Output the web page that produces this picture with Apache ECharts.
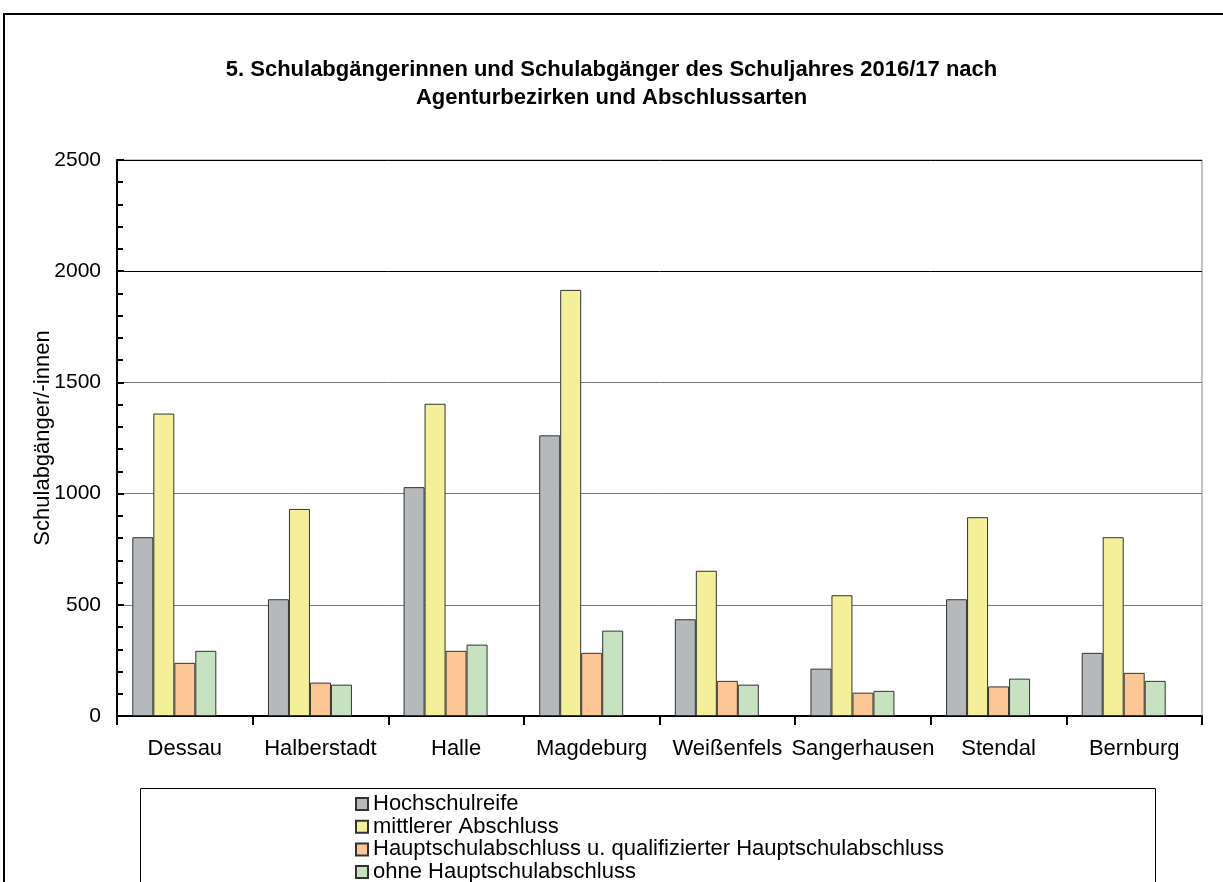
<!DOCTYPE html>
<html lang="de">
<head>
    <meta charset="UTF-8">
    <title>Schulabgänger 2016/17</title>
    <script src="https://cdn.jsdelivr.net/npm/echarts@6/dist/echarts.min.js"></script>
    <style>
        body { margin: 0; background: #fff; }
        #chart { width: 1223px; height: 882px; }
    </style>
</head>
<body>
    <div id="chart"></div>
    <script>
        // Agenturbezirke
        var bezirke = ['Dessau', 'Halberstadt', 'Halle', 'Magdeburg', 'Weißenfels', 'Sangerhausen', 'Stendal', 'Bernburg']
        var reihen = ['Hochschulreife', 'mittlerer Abschluss', 'Hauptschulabschluss u. qualifizierter Hauptschulabschluss', 'ohne Hauptschulabschluss']
        var hochschulreife = [804, 525, 1029, 1262, 435, 213, 525, 284]
        var mittlerer = [1360, 931, 1404, 1916, 653, 543, 894, 804]
        var hauptschule = [239, 150, 293, 284, 158, 105, 133, 194]
        var ohne = [293, 141, 321, 384, 141, 113, 168, 158]
        var yTicks = [0, 500, 1000, 1500, 2000, 2500]

        var farben = ['#b6b9bc', '#f4f09a', '#fcc795', '#c6e2c1']
        var font = 'Liberation Sans, Arial, sans-serif'

        var werte = [hochschulreife, mittlerer, hauptschule, ohne]
        var series = werte.map(function (d, i) {
            return {
                name: reihen[i],
                type: 'bar',
                data: d,
                barWidth: 21,
                barGap: '0%',
                itemStyle: { color: farben[i], borderColor: '#333', borderWidth: 1 }
            }
        })
        // leere fuenfte Reihe (Platzhalter wie im Original)
        series.push({
            name: 'leer',
            type: 'bar',
            data: bezirke.map(function () { return '-' }),
            barWidth: 21,
            barGap: '0%'
        })

        var myChart = echarts.init(document.getElementById('chart'))
        var option = {
            animation: false,
            textStyle: { fontFamily: font },
            title: {
                text: '5. Schulabgängerinnen und Schulabgänger des Schuljahres 2016/17 nach\nAgenturbezirken und Abschlussarten',
                left: 'center',
                top: 56,
                padding: 0,
                textStyle: { fontSize: 22, fontWeight: 'bold', color: '#000', lineHeight: 28, fontFamily: font }
            },
            graphic: [
                {
                    type: 'rect',
                    shape: { x: 4, y: 14, width: 1240, height: 900 },
                    style: { fill: 'none', stroke: '#000', lineWidth: 2 },
                    z: -1
                },
                {
                    type: 'rect',
                    shape: { x: 140.5, y: 788.5, width: 1015, height: 120 },
                    style: { fill: 'none', stroke: '#000', lineWidth: 1 },
                    z: -1
                }
            ],
            legend: {
                data: reihen,
                orient: 'vertical',
                left: 355,
                top: 793,
                height: 120,
                padding: 0,
                itemWidth: 12,
                itemHeight: 12,
                itemGap: 0.7,
                icon: 'rect',
                textStyle: { fontSize: 22, color: '#000', lineHeight: 20 }
            },
            grid: {
                left: 117,
                right: 21,
                top: 160,
                bottom: 166,
                show: true,
                borderColor: '#888',
                borderWidth: 1
            },
            xAxis: {
                type: 'category',
                data: bezirke,
                axisLine: { lineStyle: { color: '#000', width: 2 } },
                axisTick: { show: true, interval: 0, length: 9, lineStyle: { color: '#000', width: 2 } },
                axisLabel: { fontSize: 22, color: '#000', margin: 22, interval: 0 }
            },
            yAxis: {
                type: 'value',
                min: yTicks[0],
                max: yTicks[yTicks.length - 1],
                interval: 500,
                name: 'Schulabgänger/-innen',
                nameLocation: 'middle',
                nameGap: 63,
                nameMoveOverlap: false,
                nameTextStyle: { fontSize: 22, color: '#000' },
                axisLine: { show: true, lineStyle: { color: '#000', width: 2 } },
                axisTick: { show: true, inside: true, length: 7, lineStyle: { color: '#000', width: 2 } },
                minorTick: { show: true, splitNumber: 5, length: 6, lineStyle: { color: '#000', width: 2 } },
                axisLabel: {
                    fontSize: 21,
                    color: '#000',
                    margin: 16,
                    formatter: function (v) { return String(v) }
                },
                splitLine: { lineStyle: { color: ['#000', '#777', '#777', '#777', '#000', '#000'], width: 1 } }
            },
            series: series
        }
        myChart.setOption(option)
    </script>
</body>
</html>
